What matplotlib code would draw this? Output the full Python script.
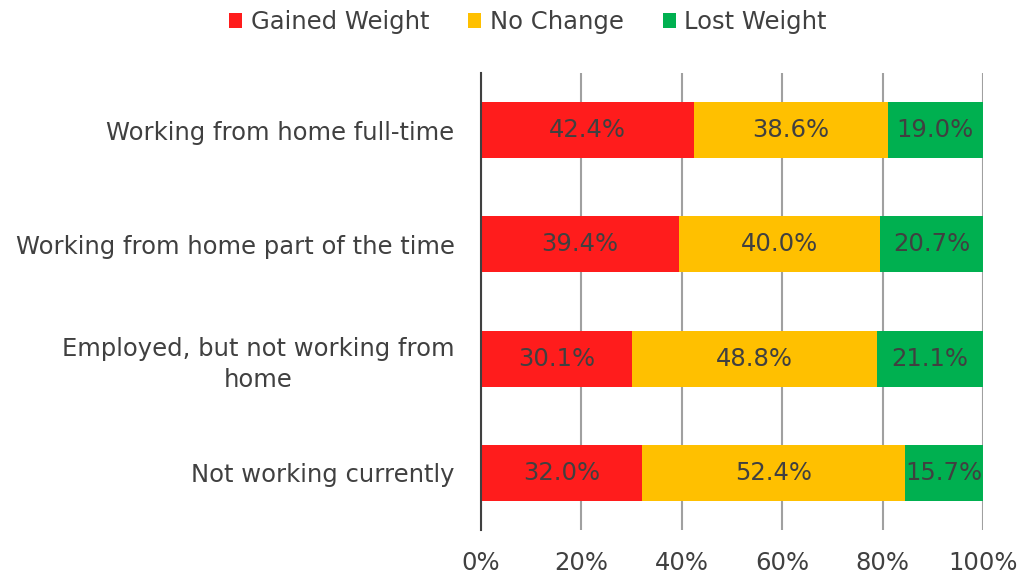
import matplotlib
matplotlib.use("Agg")
import matplotlib.pyplot as plt
import numpy as np

categories = ["Working from home full-time",
              "Working from home part of the time",
              "Employed, but not working from\nhome",
              "Not working currently"]
series_names = ["Gained Weight", "No Change", "Lost Weight"]
gained = [42.4, 39.4, 30.1, 32.0]
no_change = [38.6, 40.0, 48.8, 52.4]
lost = [19.0, 20.7, 21.1, 15.7]
xticks = [0, 20, 40, 60, 80, 100]
xtick_labels = ["0%", "20%", "40%", "60%", "80%", "100%"]

colors = ["#FF1C1C", "#FFC000", "#00B050"]
text_color = "#404040"
fs = 17.5

plt.rcParams['font.family'] = ['DejaVu Sans']
fig = plt.figure(figsize=(10.19, 5.81), dpi=100)
ax = fig.add_axes([481/1019, 1-530/581, (983-481)/1019, (530-73)/581])

y = np.arange(len(categories))
left = np.zeros(len(categories))
for name, vals, c in zip(series_names, [gained, no_change, lost], colors):
    vals = np.array(vals)
    ax.barh(y, vals, left=left, height=0.49, color=c, label=name, zorder=2)
    for yi, l, v in zip(y, left, vals):
        ax.text(l + v/2, yi, f"{v:.1f}%", ha="center", va="center",
                fontsize=fs, color=text_color, zorder=3)
    left = left + vals

ax.set_xlim(0, 100)
ax.set_ylim(len(categories) - 0.5, -0.5)
ax.set_yticks(y)
ax.set_yticklabels(categories, fontsize=fs, color=text_color,
                   multialignment="center", linespacing=1.35)
ax.set_xticks(xticks)
ax.set_xticklabels(xtick_labels, fontsize=fs, color=text_color)
ax.tick_params(axis="x", length=0, pad=15)
ax.tick_params(axis="y", length=0, pad=19)
ax.grid(axis="x", color="#A0A0A0", linewidth=1.5, zorder=1)
ax.set_axisbelow(True)
for s in ["top", "right", "bottom"]:
    ax.spines[s].set_visible(False)
ax.spines["left"].set_color("#404040")
ax.spines["left"].set_linewidth(1.5)
ax.spines["left"].set_zorder(4)

leg = fig.legend(loc="upper center", bbox_to_anchor=(0.518, 1.02), ncol=3, frameon=False,
                 fontsize=fs, handlelength=0.55, handleheight=0.55, handletextpad=0.35,
                 columnspacing=1.6)
for t in leg.get_texts():
    t.set_color(text_color)

fig.savefig("out.png", dpi=100)
